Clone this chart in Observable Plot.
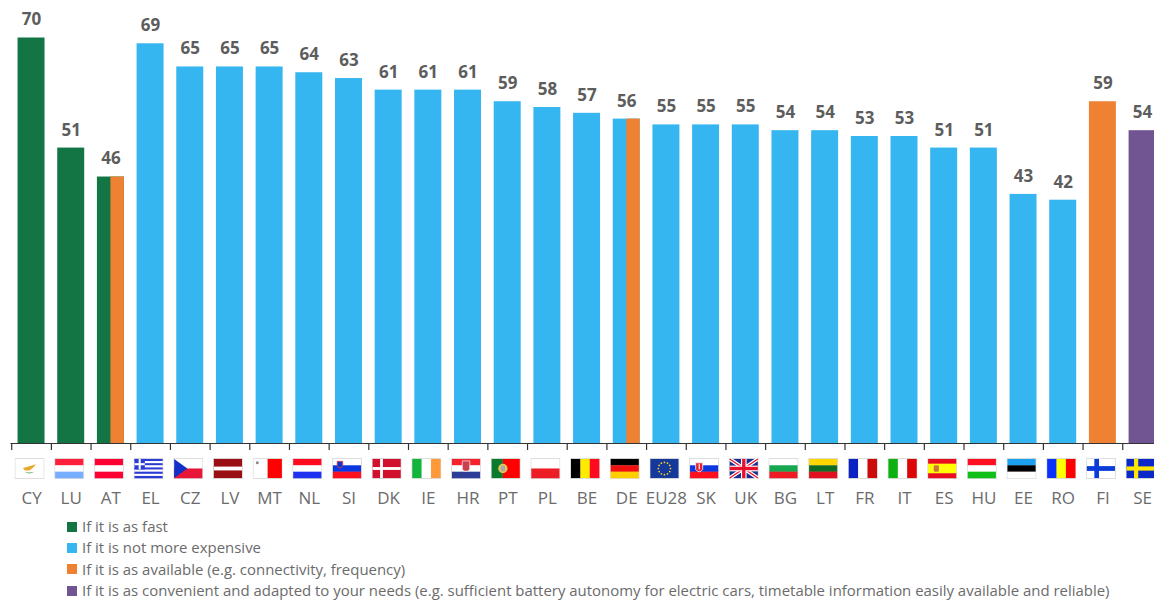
<!DOCTYPE html>
<html>
<head>
<meta charset="utf-8">
<script src="https://cdn.jsdelivr.net/npm/d3@7"></script>
<script src="https://cdn.jsdelivr.net/npm/@observablehq/plot@0.6"></script>
<style>
  html, body { margin: 0; padding: 0; background: #fff; }
  body { width: 1154px; height: 600px; overflow: hidden; font-family: "Open Sans", sans-serif; }
  svg { display: block; }
  #legend { position: absolute; left: 67px; top: 516px; font-size: 14.95px; line-height: 21.3px; color: #6b6b6b; white-space: nowrap; }
  #legend .row { display: flex; align-items: center; }
  #legend .sw { width: 10px; height: 10px; margin-right: 5px; flex: none; }
</style>
</head>
<body>
<div id="chart"></div>
<div id="legend"></div>
<script>
const countries = ["CY","LU","AT","EL","CZ","LV","MT","NL","SI","DK","IE","HR","PT","PL","BE","DE","EU28","SK","UK","BG","LT","FR","IT","ES","HU","EE","RO","FI","SE"];
const values = [70,51,46,69,65,65,65,64,63,61,61,61,59,58,57,56,55,55,55,54,54,53,53,51,51,43,42,59,54];
const FAST = "If it is as fast";
const CHEAP = "If it is not more expensive";
const AVAIL = "If it is as available (e.g. connectivity, frequency)";
const CONV = "If it is as convenient and adapted to your needs (e.g. sufficient battery autonomy for electric cars, timetable information easily available and reliable)";
const seriesNames = [FAST, CHEAP, AVAIL, CONV];
const seriesColors = ["#137544", "#35B6F0", "#EF8133", "#705592"];
const mainSeries = [FAST,FAST,FAST,CHEAP,CHEAP,CHEAP,CHEAP,CHEAP,CHEAP,CHEAP,CHEAP,CHEAP,CHEAP,CHEAP,CHEAP,CHEAP,CHEAP,CHEAP,CHEAP,CHEAP,CHEAP,CHEAP,CHEAP,CHEAP,CHEAP,CHEAP,CHEAP,AVAIL,CONV];
const tiedCountries = ["AT","DE"];
const tiedSeries = [AVAIL, AVAIL];

const rows = countries.map((c, i) => ({country: c, value: values[i], series: mainSeries[i]}));
const tied = tiedCountries.map((c, i) => ({country: c, value: values[countries.indexOf(c)], series: tiedSeries[i]}));

// Small flag artwork, one SVG image per country
const hs = (...c) => c.map((f, i) => `<rect x="0" y="${i * 20 / c.length}" width="30" height="${20 / c.length + .2}" fill="${f}"/>`).join("");
const vs = (...c) => c.map((f, i) => `<rect x="${i * 30 / c.length}" y="0" width="${30 / c.length + .2}" height="20" fill="${f}"/>`).join("");
const stars = d3.range(12).map(i => `<circle cx="${15 + 6.5 * Math.cos(i * Math.PI / 6)}" cy="${10 + 6.5 * Math.sin(i * Math.PI / 6)}" r="0.9" fill="#FFD21E"/>`).join("");
const flagArt = {
  CY: `<rect width="30" height="20" fill="#fff"/><path d="M8 9.5 L14 8 L22 5.5 L19 9 L15 12 L10 12 Z" fill="#E8A92A"/><path d="M10 13.5 Q15 17 20 13.5 Q15 15 10 13.5Z" fill="#5DB05A"/>`,
  LU: hs("#FF1F3A","#fff","#77AEFF"),
  AT: hs("#FF0033","#fff","#FF0033"),
  EL: hs("#2B3BD6","#fff","#2B3BD6","#fff","#2B3BD6","#fff","#2B3BD6","#fff","#2B3BD6") + `<rect width="11" height="11" fill="#2B3BD6"/><rect x="4.4" width="2.2" height="11" fill="#fff"/><rect y="4.4" width="11" height="2.2" fill="#fff"/>`,
  CZ: hs("#fff","#E8173A") + `<path d="M0 0 L14 10 L0 20Z" fill="#1030C8"/>`,
  LV: `<rect width="30" height="20" fill="#9A0F14"/><rect y="8" width="30" height="4" fill="#fff"/>`,
  MT: vs("#fff","#FF0000") + `<circle cx="4" cy="4" r="1.6" fill="#888"/>`,
  NL: hs("#FF0A1E","#fff","#1E32F0"),
  SI: hs("#fff","#0A37E0","#FF1020") + `<path d="M4.5 2.5 h6 v5 q-3 3.5 -6 0Z" fill="#1034C8" stroke="#F04040" stroke-width=".8"/>`,
  DK: `<rect width="30" height="20" fill="#D0102C"/><rect x="8" width="3" height="20" fill="#fff"/><rect y="8.5" width="30" height="3" fill="#fff"/>`,
  IE: vs("#12B43C","#fff","#FF9A3A"),
  HR: hs("#F5222D","#fff","#2D3C96") + `<path d="M11 2 h8 v9 q-4 4 -8 0Z" fill="#C8414C" stroke="#fff" stroke-width=".7"/>`,
  PT: `<rect width="12" height="20" fill="#0B7A2C"/><rect x="12" width="18" height="20" fill="#FF0000"/><circle cx="12" cy="10" r="5" fill="#E5C84A"/><rect x="9.8" y="7" width="4.4" height="6" fill="#A8A8B8"/>`,
  PL: hs("#fff","#EE1C25"),
  BE: vs("#000","#FFEB00","#FF0A1E"),
  DE: hs("#000","#F01010","#FFCE00"),
  EU: `<rect width="30" height="20" fill="#14399A"/>` + stars,
  SK: hs("#fff","#0A37E0","#FF1020") + `<path d="M6 4 h7.5 v7 q-3.7 5 -7.5 0Z" fill="#E5202A" stroke="#fff" stroke-width=".8"/><rect x="9.2" y="5" width="1.2" height="6" fill="#fff"/>`,
  UK: `<rect width="30" height="20" fill="#1C2F8C"/><path d="M0 0 L30 20 M30 0 L0 20" stroke="#fff" stroke-width="4"/><path d="M0 0 L30 20 M30 0 L0 20" stroke="#E8112D" stroke-width="1.4"/><rect x="12" width="6" height="20" fill="#fff"/><rect y="7" width="30" height="6" fill="#fff"/><rect x="13.2" width="3.6" height="20" fill="#E8112D"/><rect y="8.2" width="30" height="3.6" fill="#E8112D"/>`,
  BG: hs("#fff","#16A850","#EE1C25"),
  LT: hs("#FFD600","#0F6B22","#E01020"),
  FR: vs("#0A22C4","#fff","#CC0A0A"),
  IT: vs("#0CB010","#fff","#DC0606"),
  ES: hs("#E80E1E","#FFFF00","#FFFF00","#E80E1E") + `<rect x="6" y="6.5" width="5.5" height="7" rx="1.5" fill="#C8783C"/>`,
  HU: hs("#FF1020","#fff","#10C018"),
  EE: hs("#1CA0F0","#000","#fff"),
  RO: vs("#0A30FF","#FFFF00","#FF0000"),
  FI: `<rect width="30" height="20" fill="#fff"/><rect x="8" width="5" height="20" fill="#0A3CD8"/><rect y="7.5" width="30" height="5" fill="#0A3CD8"/>`,
  SE: `<rect width="30" height="20" fill="#0A28C8"/><rect x="8" width="4.5" height="20" fill="#FFE600"/><rect y="7.8" width="30" height="4.4" fill="#FFE600"/>`
};
const flagSrc = d => "data:image/svg+xml;utf8," + encodeURIComponent(
  `<svg xmlns="http://www.w3.org/2000/svg" viewBox="-1 -1 32 22" width="32" height="22"><rect x="-1" y="-1" width="32" height="22" fill="#DDDDDD"/>${flagArt[d.country === "EU28" ? "EU" : d.country]}</svg>`
);

const bandStep = 39.68;

const chart = Plot.plot({
  width: 1154,
  height: 515,
  marginTop: 37.5,
  marginBottom: 72,
  marginLeft: 10.5,
  marginRight: 0,
  style: {background: "#fff", fontFamily: "'Open Sans', sans-serif"},
  x: {domain: countries, range: [11.2, 11.2 + bandStep * countries.length], paddingInner: 0.32, paddingOuter: 0.16, align: 0.5, round: false, axis: null, label: null},
  y: {domain: [0, 70], axis: null, label: null},
  color: {domain: seriesNames, range: seriesColors},
  marks: [
    Plot.barY(rows, {x: "country", y: "value", fill: "series"}),
    Plot.barY(tied, {x: "country", y: "value", fill: "series", insetLeft: 13.5}),
    Plot.ruleY([0], {stroke: "#333", strokeWidth: 1.2}),
    Plot.axisX({tickSize: 7, dx: -bandStep / 2, fill: null, stroke: "#333", strokeWidth: 1.2, label: null}),
    Plot.axisX({tickSize: 0, tickPadding: 55, fontSize: 17, color: "#6b6b6b", label: null, lineAnchor: "middle"}),
    Plot.text(rows, {x: "country", y: "value", text: "value", dy: -18, fontSize: 17, fontWeight: 700, fill: "#5d5d5d"}),
    Plot.image(rows, {x: "country", y: 0, src: flagSrc, width: 30, height: 21, dx: -2, dy: 25, preserveAspectRatio: "none"})
  ]
});
document.getElementById("chart").appendChild(chart);

const legend = d3.select("#legend");
seriesNames.forEach((name, i) => {
  const row = legend.append("div").attr("class", "row");
  row.append("span").attr("class", "sw").style("background", seriesColors[i]);
  row.append("span").text(name);
});
</script>
</body>
</html>
